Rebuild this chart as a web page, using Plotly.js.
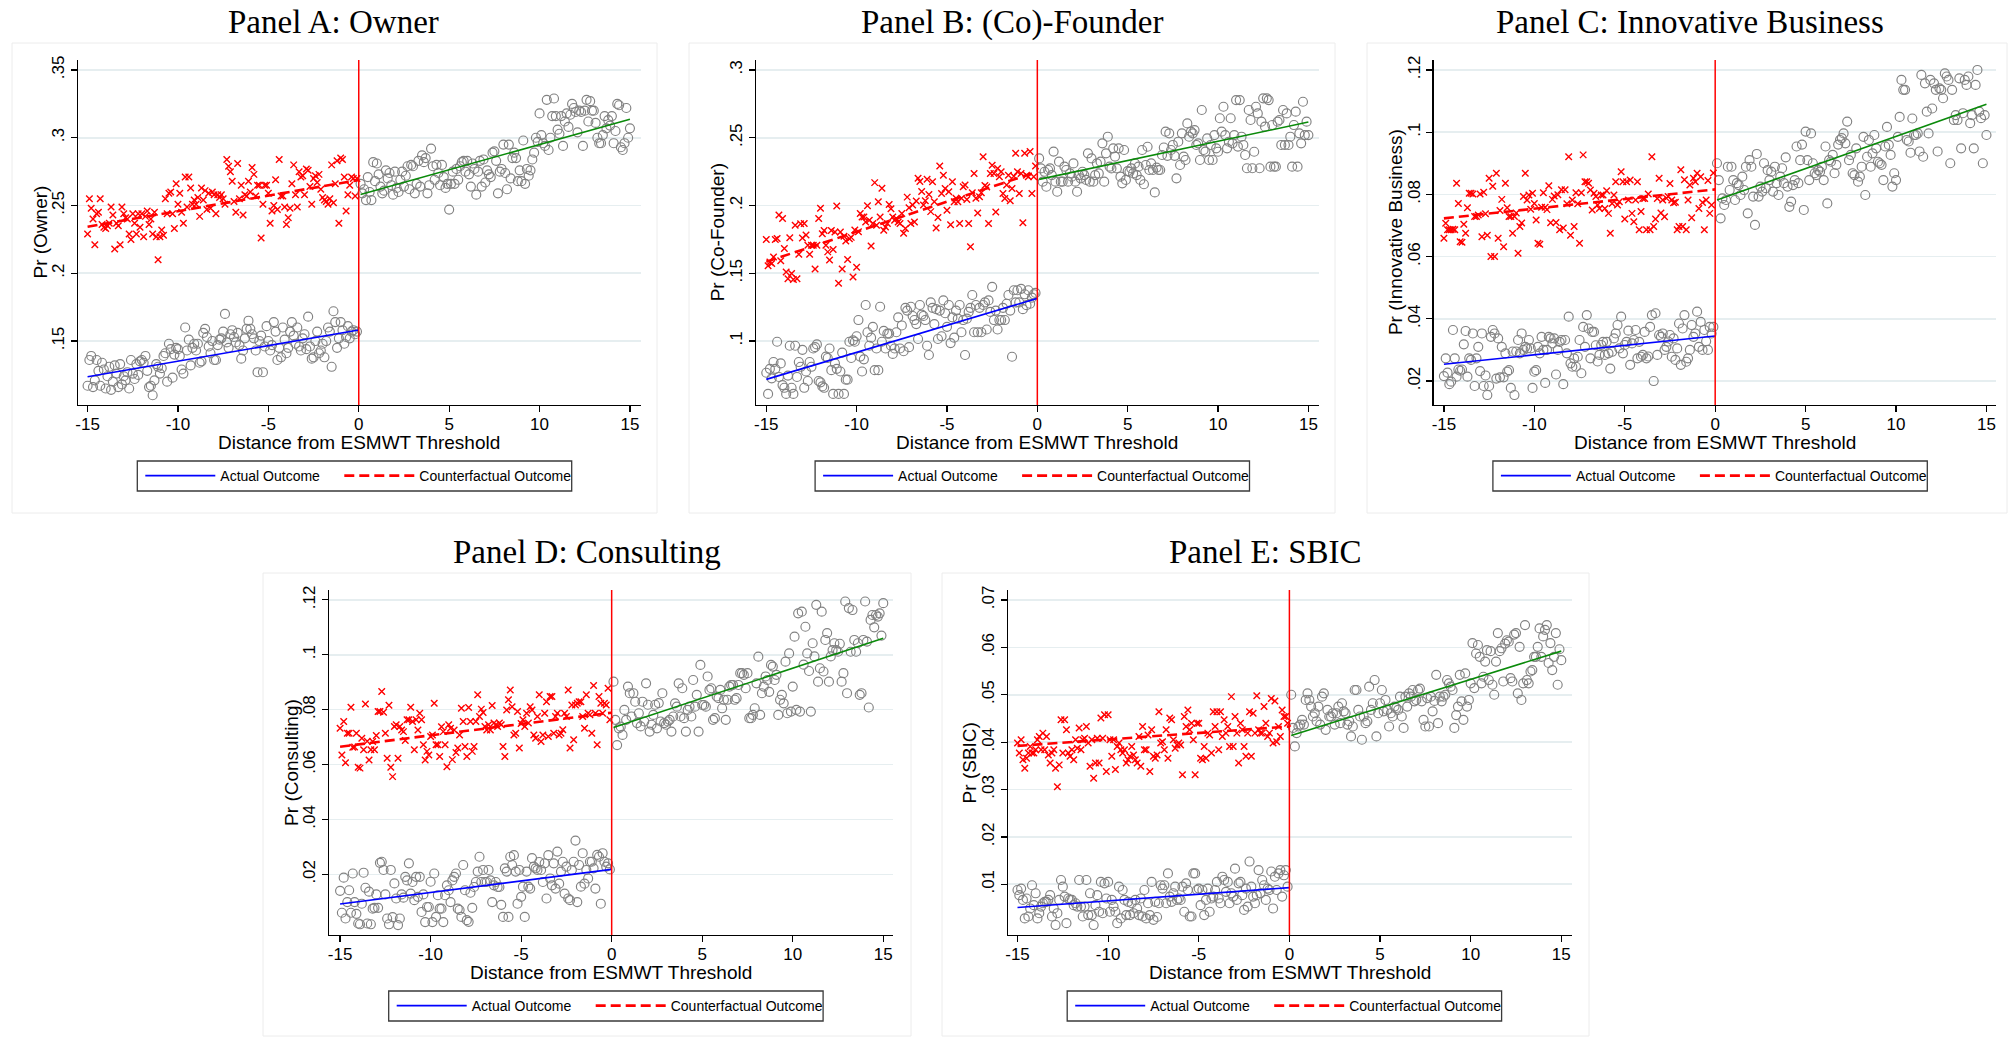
<!DOCTYPE html>
<html>
<head>
<meta charset="utf-8">
<script src="https://cdn.plot.ly/plotly-3.0.1.min.js"></script>
<style>
html,body{margin:0;padding:0;background:#fff;overflow:hidden;}
#chart{width:2008px;height:1039px;}
</style>
</head>
<body>
<div id="chart"></div>
<script>
// ---------------- DATA ----------------
const xTickVals = [-15, -10, -5, 0, 5, 10, 15];
const xTickText = ["-15", "-10", "-5", "0", "5", "10", "15"];

// running-variable bins (0.1 wide) left and right of the threshold
const binsLeft = [];
for (let i = 0; i < 150; i++) binsLeft.push(Math.round((-15 + i * 0.1) * 10) / 10);
const binsRight = [];
for (let i = 1; i <= 150; i++) binsRight.push(Math.round(i) / 10);

const fitXLeft = [-15, 0];
const fitXRight = [0.1, 15];

// Panel A: Owner
const ownerTicks = [0.15, 0.2, 0.25, 0.3, 0.35];
const ownerTickText = [".15", ".2", ".25", ".3", ".35"];
const ownerActual = [
0.117,0.136,0.139,0.116,0.121,0.136,0.128,0.117,0.134,0.129,
0.115,0.124,0.131,0.114,0.120,0.132,0.126,0.116,0.133,0.118,
0.124,0.121,0.127,0.115,0.136,0.126,0.122,0.133,0.125,0.135,
0.136,0.134,0.139,0.128,0.116,0.117,0.110,0.121,0.133,0.131,
0.126,0.130,0.139,0.141,0.120,0.148,0.144,0.123,0.140,0.145,
0.144,0.139,0.129,0.126,0.160,0.143,0.151,0.132,0.145,0.148,
0.143,0.148,0.134,0.135,0.156,0.159,0.153,0.146,0.141,0.150,
0.136,0.136,0.147,0.151,0.152,0.157,0.170,0.149,0.145,0.155,
0.158,0.153,0.149,0.156,0.147,0.137,0.143,0.152,0.159,0.165,
0.159,0.155,0.152,0.143,0.127,0.150,0.154,0.127,0.146,0.161,
0.150,0.143,0.147,0.164,0.157,0.136,0.145,0.138,0.160,0.151,
0.141,0.145,0.157,0.164,0.154,0.148,0.160,0.146,0.143,0.152,
0.155,0.144,0.168,0.146,0.137,0.138,0.150,0.157,0.141,0.143,
0.148,0.138,0.150,0.160,0.157,0.131,0.172,0.164,0.145,0.152,
0.164,0.158,0.148,0.153,0.161,0.152,0.157,0.158,0.155,0.157];
const ownerCounterfactual = [
0.229,0.255,0.248,0.240,0.221,0.244,0.245,0.255,0.236,0.234,
0.233,0.235,0.237,0.249,0.243,0.218,0.237,0.235,0.221,0.249,
0.244,0.241,0.240,0.229,0.225,0.244,0.237,0.229,0.244,0.234,
0.244,0.227,0.242,0.246,0.236,0.240,0.229,0.245,0.227,0.210,
0.227,0.232,0.228,0.255,0.244,0.259,0.260,0.244,0.233,0.266,
0.251,0.259,0.245,0.237,0.271,0.249,0.271,0.263,0.251,0.254,
0.251,0.256,0.242,0.263,0.254,0.261,0.247,0.259,0.248,0.260,
0.258,0.244,0.258,0.256,0.258,0.255,0.251,0.284,0.279,0.275,
0.268,0.253,0.245,0.281,0.255,0.265,0.243,0.258,0.257,0.268,
0.260,0.278,0.273,0.257,0.265,0.265,0.226,0.251,0.265,0.265,
0.259,0.237,0.246,0.250,0.269,0.247,0.284,0.257,0.257,0.249,
0.236,0.241,0.248,0.266,0.280,0.258,0.249,0.275,0.271,0.272,
0.258,0.277,0.276,0.264,0.251,0.270,0.272,0.267,0.273,0.262,
0.256,0.254,0.253,0.251,0.255,0.280,0.252,0.266,0.283,0.237,
0.285,0.284,0.271,0.246,0.258,0.265,0.271,0.270,0.257,0.270];
const ownerRight = [
0.266,0.259,0.262,0.254,0.271,0.260,0.254,0.282,0.268,0.281,
0.273,0.264,0.259,0.261,0.276,0.270,0.274,0.265,0.258,0.275,
0.263,0.260,0.269,0.275,0.264,0.272,0.279,0.262,0.280,0.279,
0.259,0.266,0.283,0.264,0.287,0.282,0.285,0.259,0.265,0.292,
0.279,0.269,0.280,0.274,0.265,0.280,0.271,0.263,0.266,0.247,
0.266,0.275,0.266,0.277,0.269,0.279,0.282,0.283,0.275,0.283,
0.273,0.264,0.281,0.277,0.258,0.275,0.283,0.264,0.284,0.267,
0.276,0.273,0.271,0.289,0.290,0.283,0.259,0.275,0.277,0.295,
0.274,0.262,0.295,0.270,0.285,0.289,0.285,0.268,0.276,0.268,
0.298,0.266,0.277,0.272,0.276,0.284,0.289,0.300,0.297,0.318,
0.302,0.296,0.294,0.328,0.291,0.300,0.316,0.329,0.316,0.306,
0.303,0.316,0.294,0.312,0.318,0.308,0.317,0.325,0.322,0.319,
0.304,0.320,0.319,0.294,0.320,0.328,0.312,0.327,0.320,0.320,
0.311,0.300,0.296,0.296,0.302,0.316,0.307,0.313,0.309,0.316,
0.296,0.305,0.325,0.324,0.293,0.291,0.296,0.322,0.300,0.307];
const ownerFitActual = [0.1237, 0.1581];
const ownerFitCounterfactual = [0.2344, 0.2688];
const ownerFitRight = [0.2582, 0.3136];

// Panel B: (Co)-Founder
const founderTicks = [0.1, 0.15, 0.2, 0.25, 0.3];
const founderTickText = [".1", ".15", ".2", ".25", ".3"];
const founderActual = [
0.0766,0.0610,0.0795,0.0725,0.0845,0.0795,0.0995,0.0735,0.0835,0.0675,
0.0655,0.0610,0.0745,0.0965,0.0655,0.0610,0.0965,0.0735,0.0845,0.0810,
0.0935,0.0655,0.0775,0.0705,0.0845,0.0810,0.0945,0.0955,0.0975,0.0705,
0.0695,0.0665,0.0655,0.0885,0.0875,0.0945,0.0785,0.0610,0.0835,0.0795,
0.0610,0.0775,0.0915,0.0610,0.0715,0.0715,0.0995,0.0875,0.1005,0.0995,
0.1035,0.1155,0.0885,0.0775,0.0865,0.1266,0.1065,0.0965,0.1025,0.1105,
0.0785,0.0945,0.0785,0.1253,0.0995,0.1075,0.0945,0.1055,0.1055,0.0965,
0.0905,0.0945,0.1065,0.1175,0.0945,0.1115,0.0925,0.1245,0.1225,0.0955,
0.1253,0.1185,0.1155,0.1125,0.1015,0.1266,0.1195,0.1185,0.1155,0.0965,
0.0897,0.1285,0.1245,0.1125,0.1235,0.1015,0.1225,0.1035,0.1300,0.1205,
0.1105,0.1266,0.0985,0.1175,0.1025,0.1225,0.1165,0.1266,0.1065,0.1155,
0.0897,0.1165,0.1215,0.1245,0.1340,0.1065,0.1266,0.1065,0.1245,0.1065,
0.1266,0.1285,0.1085,0.1300,0.1215,0.1400,0.1155,0.1225,0.1085,0.1155,
0.1155,0.1245,0.1155,0.1275,0.1340,0.1225,0.0884,0.1375,0.1285,0.1375,
0.1285,0.1385,0.1235,0.1345,0.1265,0.1375,0.1275,0.1320,0.1345,0.1355];
const founderCounterfactual = [
0.1750,0.1556,0.1584,0.1572,0.1621,0.1750,0.1757,0.1930,0.1593,0.1905,
0.1683,0.1510,0.1460,0.1762,0.1498,0.1455,0.1855,0.1460,0.1640,0.1865,
0.1761,0.1868,0.1782,0.1707,0.1640,0.1707,0.1707,0.1532,0.1707,0.1905,
0.1980,0.1791,0.1815,0.1707,0.1658,0.1598,0.1815,0.1675,0.1805,0.1996,
0.1426,0.1805,0.1532,0.1773,0.1738,0.1602,0.1755,0.1765,0.1473,0.1819,
0.1545,0.1807,0.1941,0.1916,0.1916,0.1879,0.1999,0.1891,0.1702,0.1867,
0.2169,0.1855,0.2028,0.1916,0.2127,0.1817,0.1842,0.1867,0.2007,0.1976,
0.1916,0.1891,0.1904,0.1879,0.1867,0.1941,0.1795,0.1831,0.2062,0.1983,
0.1867,0.2004,0.1879,0.2033,0.2202,0.2177,0.2103,0.2004,0.2035,0.2194,
0.2082,0.1955,0.2175,0.2028,0.1834,0.1912,0.2292,0.2089,0.2224,0.2126,
0.1965,0.2101,0.1859,0.2175,0.2028,0.2053,0.2028,0.1867,0.2053,0.2138,
0.2151,0.2045,0.1867,0.1696,0.2094,0.2236,0.2053,0.1945,0.2065,0.2094,
0.2360,0.2148,0.2136,0.1867,0.2236,0.2298,0.2236,0.1953,0.2273,0.2212,
0.2249,0.2089,0.2052,0.2151,0.2224,0.2035,0.2126,0.2216,0.2385,0.2249,
0.2089,0.2236,0.1873,0.2385,0.2224,0.2212,0.2398,0.2089,0.2212,0.2292];
const founderRight = [
0.2348,0.2274,0.2176,0.2249,0.2139,0.2262,0.2274,0.2225,0.2398,0.2176,
0.2102,0.2324,0.2176,0.2176,0.2287,0.2262,0.2176,0.2237,0.2213,0.2311,
0.2176,0.2102,0.2225,0.2201,0.2249,0.2225,0.2189,0.2385,0.2176,0.2348,
0.2176,0.2225,0.2311,0.2237,0.2324,0.2459,0.2176,0.2385,0.2508,0.2287,
0.2274,0.2422,0.2361,0.2274,0.2422,0.2213,0.2164,0.2410,0.2189,0.2254,
0.2249,0.2274,0.2237,0.2311,0.2225,0.2287,0.2189,0.2410,0.2157,0.2299,
0.2434,0.2262,0.2311,0.2262,0.2097,0.2280,0.2262,0.2262,0.2373,0.2428,
0.2545,0.2367,0.2533,0.2410,0.2447,0.2367,0.2201,0.2471,0.2299,0.2533,
0.2361,0.2336,0.2606,0.2508,0.2545,0.2533,0.2557,0.2447,0.2459,0.2336,
0.2705,0.2410,0.2398,0.2496,0.2336,0.2447,0.2336,0.2520,0.2422,0.2397,
0.2644,0.2545,0.2729,0.2520,0.2422,0.2471,0.2644,0.2459,0.2520,0.2778,
0.2435,0.2778,0.2508,0.2447,0.2373,0.2275,0.2705,0.2631,0.2275,0.2397,
0.2729,0.2680,0.2275,0.2619,0.2791,0.2582,0.2791,0.2778,0.2287,0.2594,
0.2287,0.2287,0.2619,0.2631,0.2447,0.2705,0.2447,0.2680,0.2447,0.2508,
0.2287,0.2594,0.2693,0.2287,0.2533,0.2459,0.2766,0.2520,0.2619,0.2520];
const founderFitActual = [0.0717, 0.1315];
const founderFitCounterfactual = [0.1585, 0.2250];
const founderFitRight = [0.2193, 0.2616];

// Panel C: Innovative Business
const innovTicks = [0.02, 0.04, 0.06, 0.08, 0.1, 0.12];
const innovTickText = [".02", ".04", ".06", ".08", ".1", ".12"];
const innovActual = [
0.0216,0.0273,0.0227,0.0190,0.0198,0.0364,0.0273,0.0214,0.0237,0.0233,
0.0237,0.0318,0.0361,0.0214,0.0273,0.0268,0.0353,0.0184,0.0273,0.0310,
0.0232,0.0353,0.0184,0.0218,0.0155,0.0184,0.0342,0.0364,0.0353,0.0208,
0.0337,0.0212,0.0310,0.0212,0.0289,0.0230,0.0235,0.0178,0.0295,0.0155,
0.0295,0.0332,0.0289,0.0353,0.0300,0.0310,0.0305,0.0332,0.0305,0.0178,
0.0230,0.0235,0.0310,0.0289,0.0342,0.0300,0.0194,0.0300,0.0342,0.0337,
0.0321,0.0337,0.0221,0.0300,0.0326,0.0332,0.0190,0.0332,0.0289,0.0407,
0.0257,0.0246,0.0273,0.0246,0.0278,0.0332,0.0225,0.0374,0.0310,0.0412,
0.0369,0.0273,0.0358,0.0358,0.0315,0.0263,0.0284,0.0316,0.0326,0.0284,
0.0326,0.0289,0.0240,0.0294,0.0337,0.0353,0.0380,0.0305,0.0407,0.0289,
0.0316,0.0326,0.0362,0.0252,0.0321,0.0332,0.0364,0.0273,0.0326,0.0278,
0.0284,0.0358,0.0273,0.0279,0.0374,0.0412,0.0200,0.0418,0.0284,0.0348,
0.0342,0.0353,0.0300,0.0310,0.0327,0.0348,0.0278,0.0337,0.0268,0.0305,
0.0385,0.0252,0.0369,0.0412,0.0262,0.0273,0.0300,0.0380,0.0342,0.0353,
0.0423,0.0310,0.0390,0.0300,0.0364,0.0328,0.0300,0.0374,0.0353,0.0374];
const innovCounterfactual = [
0.0659,0.0707,0.0686,0.0686,0.0686,0.0688,0.0686,0.0836,0.0771,0.0648,
0.0646,0.0704,0.0675,0.0757,0.0804,0.0804,0.0801,0.0729,0.0729,0.0734,
0.0801,0.0664,0.0807,0.0738,0.0669,0.0852,0.0600,0.0826,0.0600,0.0868,
0.0659,0.0748,0.0784,0.0632,0.0836,0.0757,0.0729,0.0729,0.0675,0.0729,
0.0740,0.0611,0.0697,0.0708,0.0793,0.0868,0.0782,0.0798,0.0752,0.0804,
0.0771,0.0718,0.0643,0.0640,0.0759,0.0805,0.0759,0.0751,0.0828,0.0709,
0.0784,0.0795,0.0710,0.0799,0.0686,0.0815,0.0692,0.0815,0.0770,0.0921,
0.0669,0.0782,0.0697,0.0805,0.0770,0.0643,0.0805,0.0927,0.0841,0.0841,
0.0836,0.0814,0.0750,0.0804,0.0793,0.0766,0.0755,0.0798,0.0798,0.0755,
0.0812,0.0739,0.0675,0.0771,0.0798,0.0841,0.0766,0.0776,0.0873,0.0841,
0.0721,0.0841,0.0782,0.0846,0.0739,0.0712,0.0782,0.0841,0.0686,0.0745,
0.0787,0.0787,0.0686,0.0801,0.0686,0.0921,0.0697,0.0721,0.0787,0.0852,
0.0740,0.0782,0.0728,0.0788,0.0793,0.0835,0.0782,0.0773,0.0775,0.0686,
0.0697,0.0879,0.0697,0.0847,0.0686,0.0782,0.0830,0.0725,0.0852,0.0841,
0.0868,0.0755,0.0857,0.0774,0.0686,0.0782,0.0845,0.0739,0.0766,0.0869];
const innovRight = [
0.0900,0.0846,0.0723,0.0787,0.0766,0.0782,0.0889,0.0814,0.0889,0.0846,
0.0782,0.0836,0.0830,0.0798,0.0857,0.0814,0.0889,0.0739,0.0910,0.0889,
0.0793,0.0702,0.0930,0.0793,0.0825,0.0809,0.0900,0.0820,0.0878,0.0846,
0.0873,0.0809,0.0889,0.0836,0.0798,0.0857,0.0884,0.0836,0.0919,0.0825,
0.0760,0.0777,0.0830,0.0846,0.0954,0.0836,0.0910,0.0960,0.0750,0.1002,
0.0910,0.0846,0.0996,0.0900,0.0868,0.0862,0.0878,0.0873,0.0889,0.0846,
0.0954,0.0771,0.0910,0.0905,0.0927,0.0868,0.0895,0.0960,0.0975,0.0981,
0.0996,0.0964,0.1034,0.0910,0.0927,0.0868,0.0862,0.0948,0.0841,0.0857,
0.0889,0.0985,0.0798,0.0921,0.0975,0.0889,0.0932,0.0991,0.0948,0.0905,
0.0900,0.0895,0.0846,0.0954,0.1017,0.0959,0.0927,0.0825,0.0868,0.0846,
0.0985,0.1049,0.1168,0.1136,0.1136,0.0975,0.0970,0.0934,0.1044,0.0991,
0.0991,0.0996,0.0938,0.1184,0.0921,0.1157,0.1066,0.0996,0.1168,0.1076,
0.1157,0.1136,0.0938,0.1141,0.1136,0.1109,0.1189,0.1179,0.1168,0.0900,
0.1136,0.1039,0.1055,0.1039,0.1173,0.0948,0.1061,0.1168,0.1152,0.1179,
0.1029,0.1055,0.0948,0.1152,0.1200,0.1066,0.1045,0.0900,0.1055,0.0991];
const innovFitActual = [0.0254, 0.0345];
const innovFitCounterfactual = [0.0723, 0.0816];
const innovFitRight = [0.0782, 0.1090];

// Panel D: Consulting
const consultTicks = [0.02, 0.04, 0.06, 0.08, 0.1, 0.12];
const consultTickText = [".02", ".04", ".06", ".08", ".1", ".12"];
const consultActual = [
0.0140,0.0060,0.0188,0.0039,0.0099,0.0142,0.0060,0.0203,0.0099,0.0056,
0.0021,0.0018,0.0093,0.0206,0.0151,0.0021,0.0137,0.0018,0.0075,0.0078,
0.0127,0.0078,0.0242,0.0246,0.0216,0.0127,0.0039,0.0018,0.0216,0.0044,
0.0167,0.0112,0.0015,0.0039,0.0127,0.0115,0.0191,0.0178,0.0240,0.0130,
0.0172,0.0106,0.0191,0.0118,0.0191,0.0063,0.0127,0.0026,0.0081,0.0081,
0.0173,0.0026,0.0203,0.0045,0.0124,0.0075,0.0075,0.0026,0.0124,0.0160,
0.0142,0.0099,0.0178,0.0191,0.0203,0.0075,0.0070,0.0045,0.0234,0.0142,
0.0033,0.0027,0.0133,0.0078,0.0154,0.0172,0.0210,0.0264,0.0172,0.0216,
0.0172,0.0172,0.0216,0.0178,0.0099,0.0160,0.0172,0.0154,0.0154,0.0089,
0.0045,0.0222,0.0210,0.0045,0.0264,0.0234,0.0270,0.0210,0.0093,0.0216,
0.0118,0.0155,0.0045,0.0210,0.0155,0.0148,0.0259,0.0228,0.0222,0.0216,
0.0245,0.0216,0.0172,0.0240,0.0112,0.0270,0.0185,0.0160,0.0240,0.0148,
0.0283,0.0166,0.0210,0.0246,0.0130,0.0228,0.0112,0.0106,0.0216,0.0246,
0.0323,0.0099,0.0234,0.0155,0.0277,0.0166,0.0216,0.0185,0.0246,0.0246,
0.0222,0.0148,0.0271,0.0264,0.0093,0.0277,0.0246,0.0228,0.0240,0.0218];
const consultCounterfactual = [
0.0732,0.0635,0.0757,0.0607,0.0714,0.0714,0.0809,0.0663,0.0664,0.0714,
0.0590,0.0587,0.0696,0.0654,0.0821,0.0685,0.0617,0.0654,0.0684,0.0654,
0.0706,0.0793,0.0793,0.0866,0.0791,0.0714,0.0623,0.0816,0.0590,0.0556,
0.0739,0.0745,0.0623,0.0739,0.0726,0.0720,0.0688,0.0763,0.0763,0.0809,
0.0757,0.0654,0.0763,0.0726,0.0787,0.0763,0.0672,0.0617,0.0648,0.0635,
0.0702,0.0708,0.0823,0.0672,0.0672,0.0629,0.0738,0.0720,0.0672,0.0592,
0.0745,0.0732,0.0618,0.0726,0.0644,0.0660,0.0708,0.0805,0.0757,0.0666,
0.0629,0.0808,0.0757,0.0648,0.0666,0.0757,0.0854,0.0775,0.0802,0.0790,
0.0739,0.0726,0.0745,0.0726,0.0815,0.0751,0.0745,0.0739,0.0751,0.0745,
0.0666,0.0629,0.0799,0.0836,0.0872,0.0811,0.0708,0.0714,0.0793,0.0660,
0.0750,0.0763,0.0739,0.0787,0.0751,0.0811,0.0799,0.0708,0.0696,0.0775,
0.0854,0.0684,0.0708,0.0787,0.0829,0.0702,0.0848,0.0848,0.0714,0.0775,
0.0787,0.0708,0.0714,0.0727,0.0787,0.0775,0.0872,0.0660,0.0817,0.0690,
0.0817,0.0823,0.0829,0.0829,0.0775,0.0732,0.0854,0.0787,0.0781,0.0714,
0.0888,0.0787,0.0672,0.0848,0.0823,0.0787,0.0823,0.0817,0.0878,0.0763];
const consultRight = [
0.0902,0.0763,0.0671,0.0732,0.0738,0.0708,0.0799,0.0763,0.0884,0.0860,
0.0775,0.0860,0.0829,0.0751,0.0787,0.0739,0.0829,0.0757,0.0896,0.0818,
0.0720,0.0745,0.0781,0.0818,0.0732,0.0824,0.0757,0.0860,0.0751,0.0745,
0.0757,0.0763,0.0720,0.0775,0.0823,0.0811,0.0896,0.0775,0.0878,0.0769,
0.0720,0.0799,0.0811,0.0775,0.0908,0.0811,0.0854,0.0720,0.0963,0.0817,
0.0817,0.0811,0.0921,0.0872,0.0878,0.0763,0.0769,0.0848,0.0842,0.0872,
0.0805,0.0836,0.0763,0.0836,0.0884,0.0890,0.0890,0.0836,0.0842,0.0890,
0.0933,0.0933,0.0927,0.0878,0.0933,0.0769,0.0769,0.0781,0.0805,0.0896,
0.0993,0.0781,0.0860,0.0884,0.0921,0.0908,0.0865,0.0963,0.0957,0.0908,
0.0927,0.0781,0.0836,0.0854,0.0823,0.0975,0.0787,0.1005,0.0793,0.0884,
0.1066,0.0799,0.1151,0.0793,0.1157,0.0964,0.1102,0.1005,0.0941,0.0793,
0.1042,0.0994,0.1182,0.0902,0.0951,0.1157,0.0939,0.1054,0.1079,0.0902,
0.0994,0.1017,0.1042,0.1017,0.1011,0.1040,0.0902,0.0933,0.1194,0.0860,
0.1170,0.1011,0.1163,0.1054,0.1011,0.1042,0.0854,0.0860,0.1054,0.1194,
0.1048,0.0808,0.1127,0.1145,0.1100,0.1145,0.1139,0.1151,0.1070,0.1188];
const consultFitActual = [0.0092, 0.0218];
const consultFitCounterfactual = [0.0665, 0.0789];
const consultFitRight = [0.0735, 0.1060];

// Panel E: SBIC
const sbicTicks = [0.01, 0.02, 0.03, 0.04, 0.05, 0.06, 0.07];
const sbicTickText = [".01", ".02", ".03", ".04", ".05", ".06", ".07"];
const sbicActual = [
0.0088,0.0077,0.0091,0.0067,0.0028,0.0070,0.0032,0.0049,0.0098,0.0056,
0.0081,0.0028,0.0039,0.0053,0.0060,0.0063,0.0063,0.0067,0.0077,0.0032,
0.0049,0.0014,0.0039,0.0067,0.0109,0.0095,0.0074,0.0018,0.0070,0.0067,
0.0067,0.0056,0.0060,0.0053,0.0109,0.0053,0.0032,0.0053,0.0109,0.0035,
0.0081,0.0035,0.0014,0.0056,0.0077,0.0042,0.0105,0.0039,0.0102,0.0070,
0.0105,0.0042,0.0067,0.0053,0.0042,0.0018,0.0095,0.0028,0.0088,0.0067,
0.0035,0.0063,0.0035,0.0060,0.0039,0.0067,0.0049,0.0035,0.0070,0.0032,
0.0088,0.0028,0.0060,0.0035,0.0105,0.0025,0.0063,0.0031,0.0060,0.0098,
0.0091,0.0098,0.0060,0.0123,0.0074,0.0063,0.0081,0.0095,0.0067,0.0070,
0.0067,0.0095,0.0042,0.0102,0.0088,0.0032,0.0032,0.0123,0.0123,0.0088,
0.0091,0.0056,0.0088,0.0035,0.0067,0.0091,0.0042,0.0070,0.0074,0.0088,
0.0105,0.0070,0.0060,0.0116,0.0109,0.0084,0.0105,0.0060,0.0081,0.0074,
0.0133,0.0067,0.0102,0.0105,0.0077,0.0046,0.0091,0.0053,0.0148,0.0095,
0.0074,0.0060,0.0077,0.0130,0.0081,0.0109,0.0098,0.0067,0.0091,0.0088,
0.0127,0.0049,0.0116,0.0088,0.0123,0.0130,0.0074,0.0119,0.0130,0.0095];
const sbicCounterfactual = [
0.0398,0.0377,0.0405,0.0363,0.0345,0.0366,0.0377,0.0391,0.0377,0.0377,
0.0384,0.0405,0.0412,0.0384,0.0419,0.0384,0.0412,0.0373,0.0356,0.0377,
0.0384,0.0345,0.0306,0.0352,0.0447,0.0377,0.0447,0.0426,0.0377,0.0370,
0.0384,0.0363,0.0405,0.0387,0.0430,0.0384,0.0405,0.0408,0.0433,0.0398,
0.0349,0.0405,0.0324,0.0356,0.0408,0.0356,0.0451,0.0408,0.0458,0.0338,
0.0458,0.0405,0.0370,0.0405,0.0342,0.0391,0.0398,0.0384,0.0377,0.0384,
0.0356,0.0363,0.0370,0.0391,0.0373,0.0363,0.0356,0.0412,0.0349,0.0433,
0.0384,0.0384,0.0415,0.0338,0.0426,0.0370,0.0366,0.0373,0.0464,0.0398,
0.0401,0.0384,0.0426,0.0366,0.0451,0.0447,0.0405,0.0387,0.0394,0.0398,
0.0394,0.0331,0.0454,0.0433,0.0468,0.0426,0.0440,0.0405,0.0331,0.0440,
0.0440,0.0366,0.0363,0.0391,0.0366,0.0419,0.0415,0.0377,0.0464,0.0433,
0.0464,0.0384,0.0464,0.0412,0.0447,0.0419,0.0433,0.0391,0.0496,0.0391,
0.0454,0.0419,0.0356,0.0440,0.0426,0.0391,0.0370,0.0419,0.0464,0.0370,
0.0461,0.0419,0.0498,0.0426,0.0419,0.0419,0.0475,0.0440,0.0412,0.0419,
0.0492,0.0398,0.0487,0.0401,0.0433,0.0412,0.0468,0.0454,0.0454,0.0440];
const sbicRight = [
0.0500,0.0430,0.0391,0.0419,0.0433,0.0437,0.0447,0.0437,0.0489,0.0503,
0.0489,0.0475,0.0454,0.0461,0.0444,0.0475,0.0437,0.0496,0.0503,0.0426,
0.0468,0.0454,0.0454,0.0461,0.0437,0.0461,0.0475,0.0440,0.0482,0.0465,
0.0461,0.0437,0.0444,0.0412,0.0433,0.0510,0.0510,0.0468,0.0454,0.0405,
0.0454,0.0440,0.0444,0.0517,0.0468,0.0482,0.0531,0.0412,0.0461,0.0482,
0.0510,0.0465,0.0489,0.0468,0.0433,0.0461,0.0454,0.0475,0.0472,0.0468,
0.0496,0.0454,0.0430,0.0496,0.0475,0.0503,0.0496,0.0510,0.0486,0.0489,
0.0510,0.0513,0.0486,0.0447,0.0433,0.0493,0.0433,0.0496,0.0465,0.0487,
0.0542,0.0440,0.0496,0.0486,0.0496,0.0500,0.0531,0.0524,0.0517,0.0510,
0.0430,0.0457,0.0475,0.0542,0.0486,0.0447,0.0545,0.0475,0.0489,0.0524,
0.0609,0.0514,0.0587,0.0605,0.0580,0.0524,0.0538,0.0570,0.0594,0.0531,
0.0592,0.0521,0.0500,0.0570,0.0630,0.0592,0.0598,0.0528,0.0608,0.0615,
0.0612,0.0535,0.0528,0.0627,0.0630,0.0503,0.0601,0.0489,0.0524,0.0647,
0.0531,0.0524,0.0549,0.0552,0.0580,0.0580,0.0601,0.0640,0.0580,0.0623,
0.0637,0.0647,0.0567,0.0609,0.0552,0.0580,0.0630,0.0521,0.0596,0.0573];
const sbicFitActual = [0.0051, 0.0093];
const sbicFitCounterfactual = [0.0392, 0.0433];
const sbicFitRight = [0.0414, 0.0592];

// ---------------- LAYOUT / DRAWING ----------------
const W = 2008, H = 1039;
const px = v => v / W;
const py = v => 1 - v / H;

const SANS = "Liberation Sans, Arial, Helvetica, sans-serif";
const SERIF = "Liberation Serif, Times New Roman, serif";

const panels = [
  {id: "", title: "Panel A: Owner", ytitle: "Pr (Owner)",
   act: ownerActual, cf: ownerCounterfactual, right: ownerRight,
   fa: ownerFitActual, fc: ownerFitCounterfactual, fr: ownerFitRight,
   ticks: ownerTicks, tickText: ownerTickText,
   box: {l: 78, r: 640.6, t: 60, b: 405}, xr: [-15.53, 15.59], yr: [0.1028, 0.3574],
   titleX: 333, titleY: 22, frame: [12, 43, 657, 513]},
  {id: "2", title: "Panel B: (Co)-Founder", ytitle: "Pr (Co-Founder)",
   act: founderActual, cf: founderCounterfactual, right: founderRight,
   fa: founderFitActual, fc: founderFitCounterfactual, fr: founderFitRight,
   ticks: founderTicks, tickText: founderTickText,
   box: {l: 755.8, r: 1318.5, t: 60, b: 405}, xr: [-15.58, 15.56], yr: [0.0528, 0.3074],
   titleX: 1011.5, titleY: 22, frame: [689, 43, 1335, 513]},
  {id: "3", title: "Panel C: Innovative Business", ytitle: "Pr (Innovative Business)",
   act: innovActual, cf: innovCounterfactual, right: innovRight,
   fa: innovFitActual, fc: innovFitCounterfactual, fr: innovFitRight,
   ticks: innovTicks, tickText: innovTickText,
   box: {l: 1433.6, r: 1996.4, t: 60, b: 405}, xr: [-15.57, 15.55], yr: [0.0123, 0.1232],
   titleX: 1689.5, titleY: 22, frame: [1367, 43, 2007, 513]},
  {id: "4", title: "Panel D: Consulting", ytitle: "Pr (Consulting)",
   act: consultActual, cf: consultCounterfactual, right: consultRight,
   fa: consultFitActual, fc: consultFitCounterfactual, fr: consultFitRight,
   ticks: consultTicks, tickText: consultTickText,
   box: {l: 329.4, r: 893.4, t: 590, b: 935}, xr: [-15.59, 15.56], yr: [-0.0021, 0.1236],
   titleX: 587, titleY: 552, frame: [263, 573, 911, 1036]},
  {id: "5", title: "Panel E: SBIC", ytitle: "Pr (SBIC)",
   act: sbicActual, cf: sbicCounterfactual, right: sbicRight,
   fa: sbicFitActual, fc: sbicFitCounterfactual, fr: sbicFitRight,
   ticks: sbicTicks, tickText: sbicTickText,
   box: {l: 1007.9, r: 1571.8, t: 590, b: 935}, xr: [-15.53, 15.58], yr: [-0.0007, 0.0721],
   titleX: 1265, titleY: 552, frame: [942, 573, 1589, 1036]}
];

const data = [];
const layout = {
  width: W, height: H, autosize: false,
  margin: {l: 0, r: 0, t: 0, b: 0, pad: 0, autoexpand: false},
  paper_bgcolor: "#ffffff", plot_bgcolor: "#ffffff",
  showlegend: true,
  shapes: [], annotations: []
};

function legendSpec(xLeft, yMid) {
  return {
    x: px(xLeft), xanchor: "left", y: py(yMid), yanchor: "middle",
    orientation: "h", bgcolor: "rgba(0,0,0,0)", borderwidth: 0,
    font: {family: SANS, size: 14, color: "#000"},
    itemwidth: 70, traceorder: "normal", itemclick: false, itemdoubleclick: false
  };
}

const circleMarker = {symbol: "circle-open", size: 9, color: "#828282", line: {width: 1.15, color: "#828282"}};
const crossMarker = {symbol: "x-thin-open", size: 6.5, color: "#ff0000", line: {width: 1.4, color: "#ff0000"}};

panels.forEach((p, k) => {
  const xa = "x" + p.id, ya = "y" + p.id;
  const legA = k === 0 ? "legend" : "legend" + (2 * k + 1);
  const legC = "legend" + (2 * k + 2);
  const b = p.box;

  // scatter: actual (left), counterfactual (left), outcome (right)
  data.push({type: "scatter", mode: "markers", x: binsLeft, y: p.act, xaxis: xa, yaxis: ya,
    showlegend: false, hoverinfo: "skip", marker: circleMarker});
  data.push({type: "scatter", mode: "markers", x: binsLeft, y: p.cf, xaxis: xa, yaxis: ya,
    showlegend: false, hoverinfo: "skip", marker: crossMarker});
  data.push({type: "scatter", mode: "markers", x: binsRight, y: p.right, xaxis: xa, yaxis: ya,
    showlegend: false, hoverinfo: "skip", marker: circleMarker});
  // fit lines
  data.push({type: "scatter", mode: "lines", x: fitXLeft, y: p.fa, xaxis: xa, yaxis: ya,
    name: "Actual Outcome", legend: legA, hoverinfo: "skip",
    line: {color: "#0000ff", width: 1.6}});
  data.push({type: "scatter", mode: "lines", x: fitXLeft, y: p.fc, xaxis: xa, yaxis: ya,
    name: "Counterfactual Outcome", legend: legC, hoverinfo: "skip",
    line: {color: "#ff0000", width: 2.6, dash: "10px,5px"}});
  data.push({type: "scatter", mode: "lines", x: fitXRight, y: p.fr, xaxis: xa, yaxis: ya,
    showlegend: false, hoverinfo: "skip",
    line: {color: "#0a8a0a", width: 1.6}});

  layout["xaxis" + p.id] = {
    domain: [px(b.l), px(b.r)], range: p.xr, anchor: ya,
    tickmode: "array", tickvals: xTickVals, ticktext: xTickText,
    showline: true, linecolor: "#000", linewidth: 1.3, mirror: false,
    ticks: "outside", ticklen: 6, tickwidth: 1.2, tickcolor: "#000",
    ticklabelstandoff: -3,
    showgrid: false, zeroline: false, fixedrange: true, automargin: false,
    tickfont: {family: SANS, size: 17, color: "#000"}
  };
  layout["yaxis" + p.id] = {
    domain: [py(b.b), py(b.t)], range: p.yr, anchor: xa,
    tickmode: "array", tickvals: p.ticks, ticktext: p.tickText, tickangle: -90,
    showline: true, linecolor: "#000", linewidth: 1.3, mirror: false,
    ticks: "outside", ticklen: 6, tickwidth: 1.2, tickcolor: "#000",
    showgrid: true, gridcolor: "#e6eef0", gridwidth: 1.6, zeroline: false, fixedrange: true, automargin: false,
    tickfont: {family: SANS, size: 17, color: "#000"}
  };

  // threshold line
  layout.shapes.push({type: "line", xref: xa, yref: ya + " domain", x0: 0, x1: 0, y0: 0, y1: 1,
    line: {color: "#ff0000", width: 1.5}, layer: "above"});
  // outer panel frame
  const f = p.frame;
  layout.shapes.push({type: "rect", xref: "paper", yref: "paper", x0: px(f[0]), x1: px(f[2]), y0: py(f[3]), y1: py(f[1]),
    line: {color: "#ececec", width: 1}, fillcolor: "rgba(0,0,0,0)", layer: "below"});
  // legend frame
  const lgL = b.l + 59.3, lgR = b.l + 493.7, lgT = b.b + 56, lgB = b.b + 86;
  layout.shapes.push({type: "rect", xref: "paper", yref: "paper", x0: px(lgL), x1: px(lgR), y0: py(lgB), y1: py(lgT),
    line: {color: "#3a3a3a", width: 1.3}, fillcolor: "rgba(0,0,0,0)"});
  layout[legA] = legendSpec(lgL + 3, (lgT + lgB) / 2);
  layout[legC] = legendSpec(lgL + 202, (lgT + lgB) / 2);

  // titles
  layout.annotations.push({xref: "paper", yref: "paper", x: px(p.titleX), y: py(p.titleY),
    xanchor: "center", yanchor: "middle", showarrow: false, text: p.title,
    font: {family: SERIF, size: 33, color: "#000"}});
  layout.annotations.push({xref: "paper", yref: "paper", x: px((b.l + b.r) / 2), y: py(b.b + 37),
    xanchor: "center", yanchor: "middle", showarrow: false, text: "Distance from ESMWT Threshold",
    font: {family: SANS, size: 19, color: "#000"}});
  layout.annotations.push({xref: "paper", yref: "paper", x: px(b.l - 38), y: py((b.t + b.b) / 2),
    xanchor: "center", yanchor: "middle", showarrow: false, text: p.ytitle, textangle: -90,
    font: {family: SANS, size: 19, color: "#000"}});
});

Plotly.newPlot("chart", data, layout, {displayModeBar: false, staticPlot: true});
</script>
</body>
</html>
